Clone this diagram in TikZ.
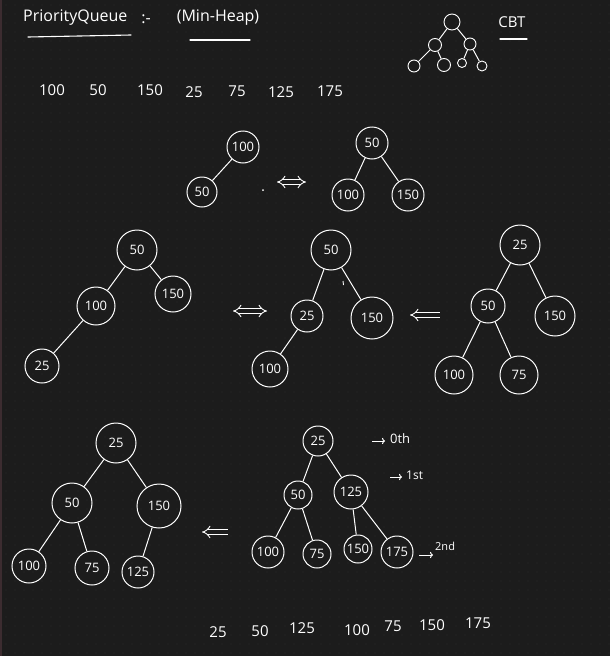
\documentclass[tikz,border=0pt]{standalone}
\usepackage{fontspec}
\setmainfont{Open Sans}
\usetikzlibrary{arrows.meta}
\definecolor{bgc}{RGB}{28,28,28}
\definecolor{dotc}{RGB}{44,44,44}
\definecolor{edgec}{RGB}{60,44,48}
\begin{document}
\begin{tikzpicture}[x=1pt,y=-1pt,
  nd/.style={circle,draw=white,line width=1pt,text=white,inner sep=0pt,minimum size=#1,font=\fontsize{13}{13}\selectfont},
  sm/.style={circle,draw=white,line width=0.9pt,inner sep=0pt,minimum size=#1},
  edge/.style={white,line width=1pt},
  txt/.style={text=white,inner sep=1pt,font=\fontsize{#1}{#1}\selectfont},
  txt/.default=15,
  uline/.style={white,line width=1.1pt,line cap=round},
  dbl/.style={white,line width=0.9pt,double=bgc,double distance=3.5pt},
  dblboth/.style={dbl,{Implies}-{Implies}},
  dblleft/.style={dbl,{Implies}-}]
\useasboundingbox (0,0) rectangle (610,656);
\fill[bgc] (0,0) rectangle (610,656);
\fill[edgec] (0,0) rectangle (2,656);
\foreach \x in {6,15,...,610} \foreach \y in {5,14,...,656} \fill[dotc] (\x,\y) circle (0.6);

% title
\node[txt=16,anchor=west] (title) at (22,18) {PriorityQueue};
\node[txt=16] (colon) at (146,19) {:-};
\node[txt=16] (minheap) at (218,18) {(Min-Heap)};
\draw[uline] (28,37) -- (131,35);
\draw[uline] (190,40) -- (250,40);

% CBT sketch
\node[sm=16pt] (c0) at (452,22) {};
\node[sm=13pt] (c1) at (435,45) {};
\node[sm=12pt] (c2) at (470,44) {};
\node[sm=12pt] (c3) at (414,66) {};
\node[sm=13pt] (c4) at (444,65) {};
\node[sm=9pt] (c5) at (462,63) {};
\node[sm=10pt] (c6) at (482,66) {};
\draw[edge] (c0) -- (c1); \draw[edge] (c0) -- (c2);
\draw[edge] (c1) -- (c3); \draw[edge] (c1) -- (c4);
\draw[edge] (c2) -- (c5); \draw[edge] (c2) -- (c6);
\node[txt=15] (cbt) at (512,22) {CBT};
\draw[uline] (500,39) -- (527,39);

% number row
\node[txt] (n1) at (52,90) {100};
\node[txt] (n2) at (98,90) {50};
\node[txt] (n3) at (150,90) {150};
\node[txt] (n4) at (194,92) {25};
\node[txt] (n5) at (237,91) {75};
\node[txt] (n6) at (281,92) {125};
\node[txt] (n7) at (330,91) {175};

% row 2
\node[nd=32pt] (a1) at (243,147) {100};
\node[nd=30pt] (a2) at (202,192) {50};
\draw[edge] (a1) -- (a2);
\fill[white] (263,190) circle (1) coordinate (dot1);
\coordinate (ar1a) at (277,182); \coordinate (ar1b) at (306,182);
\draw[dblboth] (ar1a) -- (ar1b);
\node[nd=32pt] (b1) at (372,143) {50};
\node[nd=32pt] (b2) at (348,195) {100};
\node[nd=32pt] (b3) at (408,195) {150};
\draw[edge] (b1) -- (b2); \draw[edge] (b1) -- (b3);

% row 3, tree A
\node[nd=40pt] (d1) at (137,250) {50};
\node[nd=38pt] (d2) at (96,306) {100};
\node[nd=36pt] (d3) at (173,294) {150};
\node[nd=34pt] (d4) at (42,366) {25};
\draw[edge] (d1) -- (d2); \draw[edge] (d1) -- (d3); \draw[edge] (d2) -- (d4);
\coordinate (ar2a) at (233,311); \coordinate (ar2b) at (267,311);
\draw[dblboth] (ar2a) -- (ar2b);

% tree B
\node[nd=40pt] (e1) at (331,250) {50};
\node[nd=32pt] (e2) at (307,316) {25};
\node[nd=42pt] (e3) at (372,318) {150};
\node[nd=36pt] (e4) at (270,369) {100};
\draw[edge] (e1) -- (e2); \draw[edge] (e1) -- (e3); \draw[edge] (e2) -- (e4);
\draw[white,line width=0.9pt] (343,281) -- (343.5,285) coordinate (tick1);
\coordinate (ar3a) at (410,315); \coordinate (ar3b) at (440,315);
\draw[dblleft] (ar3a) -- (ar3b);

% tree C
\node[nd=40pt] (f1) at (520,245) {25};
\node[nd=34pt] (f2) at (488,306) {50};
\node[nd=40pt] (f3) at (555,316) {150};
\node[nd=38pt] (f4) at (454,375) {100};
\node[nd=38pt] (f5) at (519,375) {75};
\draw[edge] (f1) -- (f2); \draw[edge] (f1) -- (f3);
\draw[edge] (f2) -- (f4); \draw[edge] (f2) -- (f5);

% row 4, tree D
\node[nd=40pt] (g1) at (116,443) {25};
\node[nd=40pt] (g2) at (72,503) {50};
\node[nd=44pt] (g3) at (159,506) {150};
\node[nd=34pt] (g4) at (29,566) {100};
\node[nd=34pt] (g5) at (92,568) {75};
\node[nd=32pt] (g6) at (138,572) {125};
\draw[edge] (g1) -- (g2); \draw[edge] (g1) -- (g3);
\draw[edge] (g2) -- (g4); \draw[edge] (g2) -- (g5); \draw[edge] (g3) -- (g6);
\coordinate (ar4a) at (202,532); \coordinate (ar4b) at (228,532);
\draw[dblleft] (ar4a) -- (ar4b);

% tree E
\node[nd=30pt] (h1) at (318,441) {25};
\node[nd=28pt] (h2) at (298,495) {50};
\node[nd=34pt] (h3) at (351,492) {125};
\node[nd=32pt] (h4) at (268,552) {100};
\node[nd=28pt] (h5) at (317,554) {75};
\node[nd=28pt] (h6) at (358,549) {150};
\node[nd=32pt] (h7) at (397,552) {175};
\draw[edge] (h1) -- (h2); \draw[edge] (h1) -- (h3);
\draw[edge] (h2) -- (h4); \draw[edge] (h2) -- (h5);
\draw[edge] (h3) -- (h6); \draw[edge] (h3) -- (h7);
\coordinate (l0a) at (372,441); \coordinate (l0b) at (385,441);
\draw[edge,-{To[length=3pt]}] (l0a) -- (l0b);
\node[txt=13,anchor=west] (l0) at (389,439) {0th};
\coordinate (l1a) at (390,477); \coordinate (l1b) at (402,477);
\draw[edge,-{To[length=3pt]}] (l1a) -- (l1b);
\node[txt=12,anchor=west] (l1) at (405,475) {1st};
\coordinate (l2s) at (419,555); \coordinate (l2a) at (433,555);
\draw[edge,-{To[length=3pt]}] (l2s) -- (l2a);
\node[txt=11,anchor=south west] (l2) at (434,552) {2nd};

% bottom row
\node[txt] (m1) at (218,632) {25};
\node[txt] (m2) at (260,631) {50};
\node[txt] (m3) at (302,628) {125};
\node[txt] (m4) at (357,630) {100};
\node[txt] (m5) at (393,626) {75};
\node[txt] (m6) at (432,625) {150};
\node[txt] (m7) at (478,623) {175};
\end{tikzpicture}
\end{document}
